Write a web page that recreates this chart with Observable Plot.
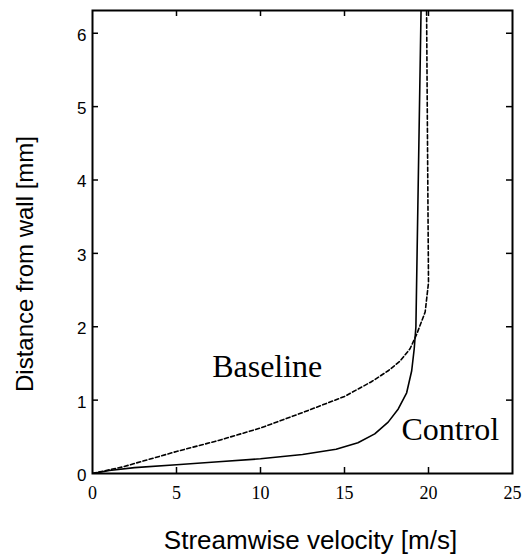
<!DOCTYPE html>
<html><head><meta charset="utf-8">
<script src="https://cdn.jsdelivr.net/npm/d3@7"></script>
<script src="https://cdn.jsdelivr.net/npm/@observablehq/plot@0.6"></script>
<style>body{margin:0;background:#fff}</style>
</head><body><div id="chart"></div>
<script>
const controlVelocity = [0, 1, 2.5, 5, 7.5, 10, 12.5, 14.5, 15.8, 16.8, 17.6, 18.2, 18.7, 19.0, 19.15, 19.25, 19.57];
const controlDistance = [0, 0.04, 0.08, 0.12, 0.16, 0.2, 0.26, 0.33, 0.42, 0.54, 0.7, 0.88, 1.1, 1.4, 1.7, 2.0, 6.5];
const baselineVelocity = [0, 1.8, 5, 7.5, 10, 12.5, 15, 16.6, 17.6, 18.3, 18.9, 19.3, 19.8, 20.0, 19.88];
const baselineDistance = [0, 0.09, 0.3, 0.45, 0.62, 0.83, 1.05, 1.25, 1.4, 1.53, 1.7, 1.9, 2.2, 2.6, 6.5];
const xTicks = [0, 5, 10, 15, 20, 25];
const yTicks = [0, 1, 2, 3, 4, 5, 6];
const annotationText = ["Baseline", "Control"];
const annotationVelocity = [10.4, 21.3];
const annotationDistance = [1.32, 0.45];
const xLabel = "Streamwise velocity [m/s]";
const yLabel = "Distance from wall [mm]";

const control = controlVelocity.map((v, i) => ({v, d: controlDistance[i]}));
const baseline = baselineVelocity.map((v, i) => ({v, d: baselineDistance[i]}));
const annotations = annotationText.map((t, i) => ({t, v: annotationVelocity[i], d: annotationDistance[i]}));

const W = 527, H = 554, mL = 92, mR = 15, mT = 10, mB = 81;
const fw = W - mL - mR, fh = H - mT - mB;

const plot = Plot.plot({
  width: W, height: H,
  marginLeft: mL, marginRight: mR, marginTop: mT, marginBottom: mB,
  style: {background: "white", color: "black"},
  x: {domain: [0, 25], axis: null},
  y: {domain: [0, 6.31], axis: null},
  marks: [
    Plot.text(xTicks, {x: d => d, text: d => String(d), frameAnchor: "bottom", lineAnchor: "top", dy: 13, fontFamily: "Liberation Serif", fontSize: 18}),
    Plot.text(yTicks, {y: d => d, text: d => String(d), frameAnchor: "left", textAnchor: "end", lineAnchor: "middle", dx: -6, dy: 2, fontFamily: "Liberation Sans", fontSize: 17}),
    Plot.ruleX(xTicks.slice(1, -1), {x: d => d, insetTop: fh - 6, strokeWidth: 1.5}),
    Plot.ruleX(xTicks.slice(1, -1), {x: d => d, insetBottom: fh - 6, strokeWidth: 1.5}),
    Plot.ruleY(yTicks.slice(1), {y: d => d, insetRight: fw - 6, strokeWidth: 1.5}),
    Plot.ruleY(yTicks.slice(1), {y: d => d, insetLeft: fw - 6, strokeWidth: 1.5}),
    Plot.line(baseline, {x: "v", y: "d", strokeDasharray: "4,2.5", strokeWidth: 1.6, clip: true}),
    Plot.line(control, {x: "v", y: "d", strokeWidth: 1.6, clip: true}),
    Plot.frame({strokeWidth: 2}),
    Plot.text(annotations, {x: "v", y: "d", text: "t", lineAnchor: "bottom", fontFamily: "Liberation Serif", fontSize: 32}),
    Plot.text([xLabel], {text: d => d, frameAnchor: "bottom", textAnchor: "middle", lineAnchor: "bottom", dy: 75, dx: 8, fontFamily: "Liberation Sans", fontSize: 26}),
    Plot.text([yLabel], {text: d => d, frameAnchor: "left", textAnchor: "middle", lineAnchor: "middle", rotate: -90, dx: -67, dy: 22, fontFamily: "Liberation Sans", fontSize: 24})
  ]
});
document.getElementById("chart").appendChild(plot);
</script>
</body></html>
